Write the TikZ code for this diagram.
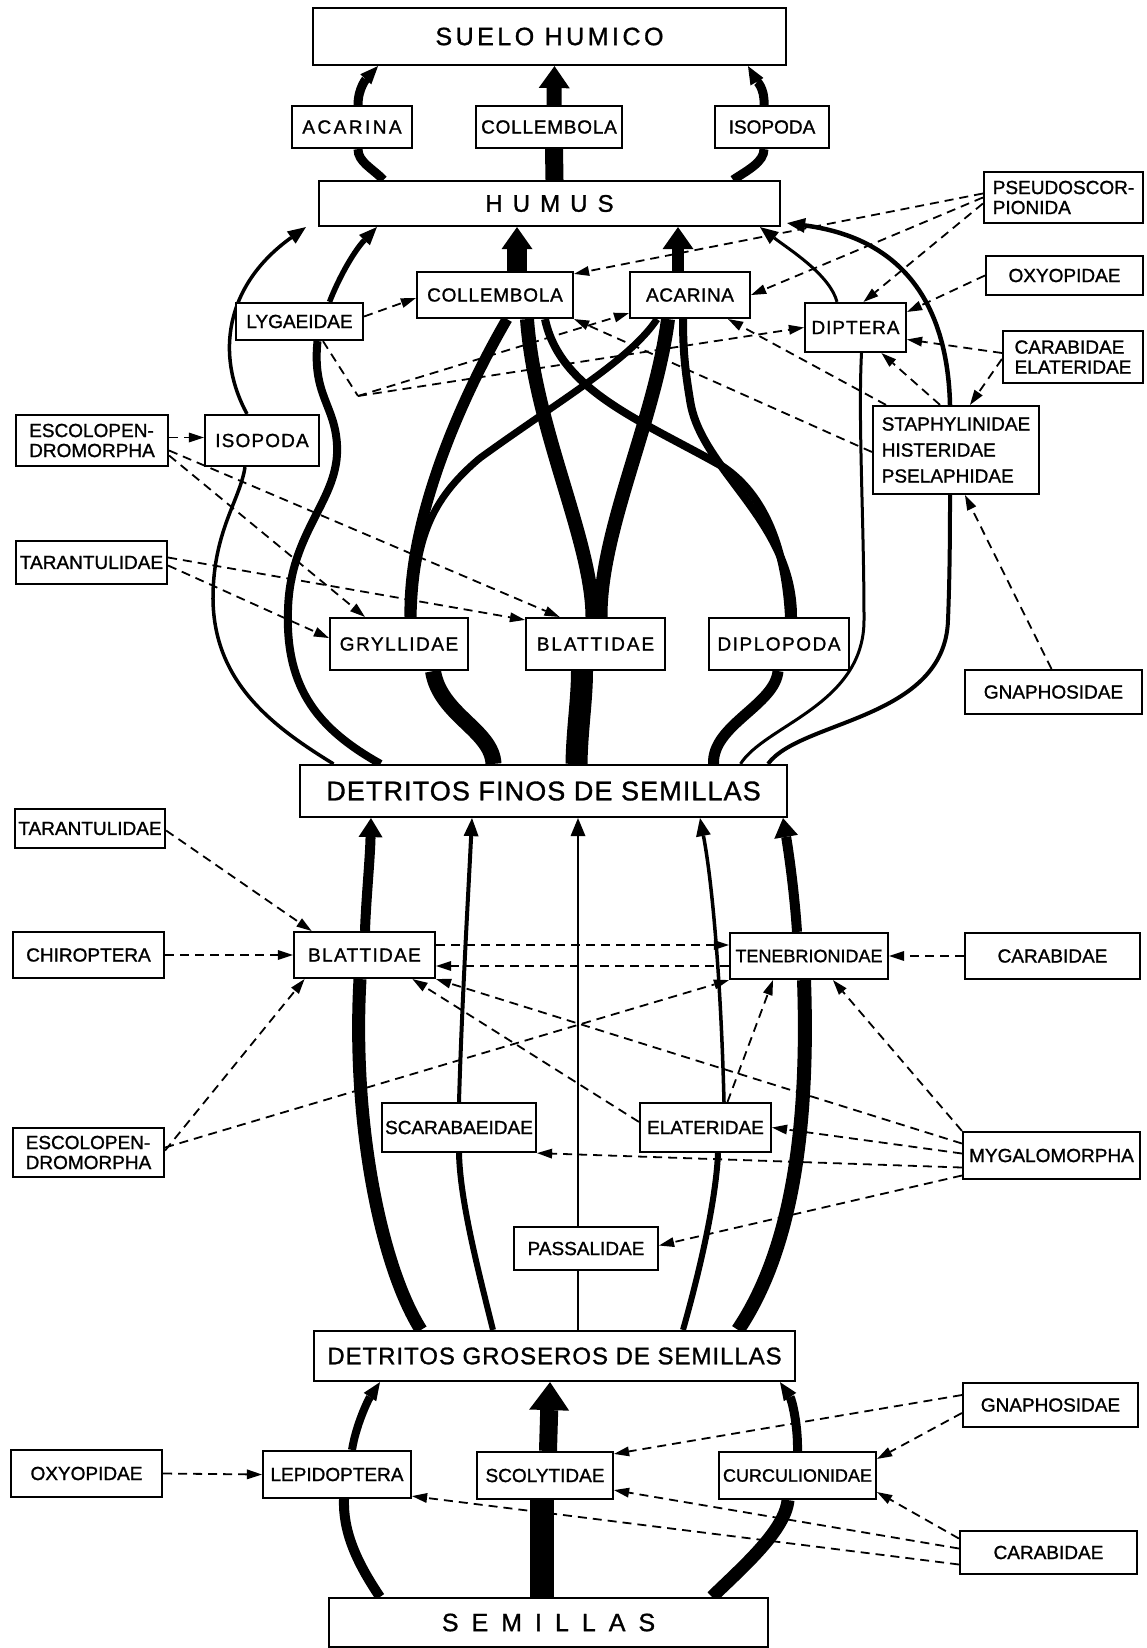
\documentclass[tikz,border=0pt]{standalone}
\usepackage{fontspec}
\setmainfont{Liberation Sans}[FakeBold=1.2]
\usetikzlibrary{arrows.meta}
\pgfdeclarelayer{bg}
\pgfsetlayers{bg,main}

\newcommand\taxfont{\fontsize{19}{22}\selectfont}
\newcommand\poolfont[2]{\fontsize{#1}{#1}\selectfont\addfontfeature{LetterSpace=#2}}

\tikzset{
    taxon/.style={
        draw,line width=2.2pt,fill=white,
        inner sep=0pt,minimum height=46pt,
        font=\taxfont
    },
    spaced/.style={font=\taxfont\addfontfeature{LetterSpace=#1}},
    flow/.style={line width=#1},
    small head/.style={-{Triangle[length=18pt,width=15pt,line width=0pt]}},
    mid head/.style={-{Triangle[length=19pt,width=24pt,line width=0pt]}},
    big head/.style={-{Triangle[length=22pt,width=31pt,line width=0pt]}},
    huge head/.style={-{Triangle[length=28pt,width=40pt,line width=0pt]}},
    preda/.style={
        line width=1.8pt,dash pattern=on 9pt off 6pt,
        -{Triangle[length=15pt,width=10pt,line width=0pt]}
    }
}

\begin{document}
\begin{tikzpicture}[x=1pt,y=-1pt]
    \useasboundingbox (0,0) rectangle (1146,1648);
    % pools
    \node[taxon,minimum width=473pt,minimum height=57pt,font=\poolfont{25}{14}] (suelo) at (549.5,36.5) {SUELO HUMICO};
    \node[taxon,minimum width=461pt,minimum height=45pt,font=\poolfont{24}{42}] (humus) at (549.5,203.5) {HUMUS};
    \node[taxon,minimum width=487pt,minimum height=52pt,font=\poolfont{27}{4}] (df) at (543.5,791) {DETRITOS FINOS DE SEMILLAS};
    \node[taxon,minimum width=481pt,minimum height=50pt,font=\poolfont{24}{4}] (dg) at (554.5,1356) {DETRITOS GROSEROS DE SEMILLAS};
    \node[taxon,minimum width=439pt,minimum height=49pt,font=\poolfont{25}{52}] (semi) at (548.5,1622.5) {SEMILLAS};
    % humus to suelo
    \node[taxon,minimum width=120pt,minimum height=42pt,spaced=13] (acaT) at (352,127) {ACARINA};
    \node[taxon,minimum width=146pt,minimum height=42pt,spaced=4] (colT) at (549,127) {COLLEMBOLA};
    \node[taxon,minimum width=114pt,minimum height=42pt] (isoT) at (772,127) {ISOPODA};
    % fine detritus to humus
    \node[taxon,minimum width=156pt,spaced=4] (colM) at (495,295) {COLLEMBOLA};
    \node[taxon,minimum width=120pt,spaced=3] (acaM) at (690,295) {ACARINA};
    \node[taxon,minimum width=127pt,minimum height=37pt] (lyg) at (299.5,321.5) {LYGAEIDAE};
    \node[taxon,minimum width=101pt,minimum height=49pt,spaced=5] (dipt) at (855.5,327.5) {DIPTERA};
    \node[taxon,minimum width=166pt,minimum height=88pt,align=left,
        font=\fontsize{19}{26}\selectfont] (staph) at (956,450) {STAPHYLINIDAE\\HISTERIDAE\\PSELAPHIDAE};
    \node[taxon,minimum width=114pt,minimum height=51pt,spaced=6] (isoM) at (262,440.5) {ISOPODA};
    \node[taxon,minimum width=138pt,minimum height=52pt,spaced=8] (gryl) at (399,644) {GRYLLIDAE};
    \node[taxon,minimum width=139pt,minimum height=52pt,spaced=10] (blaT) at (595.5,644) {BLATTIDAE};
    \node[taxon,minimum width=140pt,minimum height=52pt,spaced=8] (dipl) at (779,644) {DIPLOPODA};
    % predators, upper part
    \node[taxon,minimum width=159pt,minimum height=51pt,align=left,
        font=\fontsize{19}{20}\selectfont] (pseudo) at (1063.5,197.5) {PSEUDOSCOR-\\PIONIDA};
    \node[taxon,minimum width=157pt,minimum height=39pt] (oxyT) at (1064.5,275.5) {OXYOPIDAE};
    \node[taxon,minimum width=140pt,minimum height=52pt,align=left,
        font=\fontsize{19}{20}\selectfont] (carelat) at (1073,357) {CARABIDAE\\ELATERIDAE};
    \node[taxon,minimum width=152pt,minimum height=51pt,align=left,
        font=\fontsize{19}{20}\selectfont] (escT) at (92,440.5) {ESCOLOPEN-\\DROMORPHA};
    \node[taxon,minimum width=151pt,minimum height=43pt] (tarT) at (91.5,562.5) {TARANTULIDAE};
    \node[taxon,minimum width=177pt,minimum height=44pt] (gnaT) at (1053.5,692) {GNAPHOSIDAE};
    % coarse detritus to fine detritus
    \node[taxon,minimum width=141pt,spaced=7] (blaB) at (364.5,955) {BLATTIDAE};
    \node[taxon,minimum width=158pt,font=\fontsize{18}{22}\selectfont] (tene) at (809,956) {TENEBRIONIDAE};
    \node[taxon,minimum width=154pt,minimum height=49pt] (scar) at (459,1127.5) {SCARABAEIDAE};
    \node[taxon,minimum width=131pt,minimum height=49pt] (elat) at (705.5,1127.5) {ELATERIDAE};
    \node[taxon,minimum width=144pt,minimum height=43pt] (pass) at (586,1248.5) {PASSALIDAE};
    \node[taxon,minimum width=150pt,minimum height=39pt] (tarB) at (90,828.5) {TARANTULIDAE};
    \node[taxon,minimum width=151pt] (chir) at (88.5,955) {CHIROPTERA};
    \node[taxon,minimum width=175pt] (carM) at (1052.5,956) {CARABIDAE};
    \node[taxon,minimum width=151pt,minimum height=49pt,align=left,
        font=\fontsize{19}{20}\selectfont] (escB) at (88.5,1152.5) {ESCOLOPEN-\\DROMORPHA};
    \node[taxon,minimum width=177pt,minimum height=47pt] (myga) at (1051.5,1155.5) {MYGALOMORPHA};
    % seeds to coarse detritus
    \node[taxon,minimum width=148pt,minimum height=47pt] (lepi) at (337,1474.5) {LEPIDOPTERA};
    \node[taxon,minimum width=136pt,minimum height=47pt] (scol) at (545,1475.5) {SCOLYTIDAE};
    \node[taxon,minimum width=157pt,minimum height=47pt,font=\fontsize{18}{22}\selectfont] (curc) at (797.5,1475.5) {CURCULIONIDAE};
    \node[taxon,minimum width=151pt,minimum height=47pt] (oxyB) at (86.5,1473.5) {OXYOPIDAE};
    \node[taxon,minimum width=175pt,minimum height=44pt] (gnaB) at (1050.5,1405) {GNAPHOSIDAE};
    \node[taxon,minimum width=177pt,minimum height=43pt] (carB) at (1048.5,1552.5) {CARABIDAE};

    \begin{pgfonlayer}{bg}
    % flows humus -> suelo humico
    \draw[flow=9] ([xshift=-166pt]humus.north) .. controls (372,168) and (358,162) .. ([xshift=6pt]acaT.south);
    \draw[flow=9,small head] ([xshift=6pt]acaT.north) .. controls (358,88) and (367,78) .. ([xshift=-171.5pt]suelo.south);
    \draw[flow=18] ([xshift=5pt]humus.north) -- ([xshift=5pt]colT.south);
    \draw[flow=15,big head] ([xshift=5pt]colT.north) -- ([xshift=5pt]suelo.south);
    \draw[flow=9] ([xshift=183.5pt]humus.north) .. controls (748,170) and (764,162) .. ([xshift=-8pt]isoT.south);
    \draw[flow=9,small head] ([xshift=-8pt]isoT.north) .. controls (765,88) and (756,80) .. ([xshift=198.5pt]suelo.south);

    % flows into humus
    \draw[flow=20,big head] ([xshift=22pt]colM.north) -- ([xshift=-32.5pt]humus.south);
    \draw[flow=12,big head] ([xshift=-12pt]acaM.north) -- ([xshift=128.5pt]humus.south);
    \draw[flow=3.5,small head] ([xshift=-15pt]isoM.north) .. controls (215,355) and (225,285) .. ([xshift=-12pt]humus.south west);
    \draw[flow=5.5,small head] ([xshift=30pt]lyg.north) .. controls (340,275) and (355,250) .. ([xshift=59pt]humus.south west);
    \draw[flow=3,small head] ([xshift=-18.5pt]dipt.north) .. controls (830,275) and (790,250) .. ([xshift=210.5pt]humus.south);
    \draw[flow=4.5,small head] ([xshift=-6pt]staph.north) .. controls (948,320) and (915,240) .. ([xshift=6pt,yshift=4pt]humus.south east);

    % flows out of fine detritus
    \draw[flow=3.5] ([xshift=-210pt]df.north) .. controls (270,725) and (212,680) .. (213,595)
        .. controls (214,530) and (240,500) .. ([xshift=-17pt]isoM.south);
    \draw[flow=8] ([xshift=-163pt]df.north) .. controls (320,730) and (285,690) .. (288,610)
        .. controls (290,530) and (340,500) .. (337,445)
        .. controls (335,405) and (312,395) .. ([xshift=18pt]lyg.south);
    \draw[flow=16] ([xshift=-50pt]df.north) .. controls (492,730) and (440,715) .. ([xshift=34pt]gryl.south);
    \draw[flow=22] ([xshift=33pt]df.north) .. controls (577,730) and (582,700) .. ([xshift=-13.5pt]blaT.south);
    \draw[flow=11] ([xshift=170pt]df.north) .. controls (712,725) and (775,705) .. ([xshift=-1pt]dipl.south);
    \draw[flow=3] ([xshift=197pt]df.north) .. controls (765,725) and (864,705) .. (864,620)
        .. controls (864,520) and (858,420) .. ([xshift=6pt]dipt.south);
    \draw[flow=4] ([xshift=224.5pt]df.north) .. controls (800,720) and (945,720) .. (948,620)
        .. controls (950,570) and (950,520) .. ([xshift=-6pt]staph.south);

    % crossing flows to collembola and acarina
    \draw[flow=11] ([xshift=11pt]gryl.north) .. controls (408,520) and (460,400) .. ([xshift=12pt]colM.south);
    \draw[flow=7] ([xshift=14pt]gryl.north) .. controls (415,540) and (430,500) .. (480,458)
        .. controls (560,400) and (630,360) .. ([xshift=-33pt]acaM.south);
    \draw[flow=14] ([xshift=-3pt]blaT.north) .. controls (592,540) and (535,430) .. ([xshift=32pt]colM.south);
    \draw[flow=14] ([xshift=5pt]blaT.north) .. controls (600,530) and (655,420) .. ([xshift=-22pt]acaM.south);
    \draw[flow=8] ([xshift=10pt]dipl.north) .. controls (785,540) and (760,490) .. (720,465)
        .. controls (640,420) and (560,390) .. ([xshift=50pt]colM.south);
    \draw[flow=8] ([xshift=14pt]dipl.north) .. controls (793,520) and (700,470) .. (690,400)
        .. controls (685,370) and (683,350) .. ([xshift=-7pt]acaM.south);

    % flows coarse -> fine detritus
    \draw[flow=13] ([xshift=-133.5pt]dg.north) .. controls (380,1265) and (352,1120) .. ([xshift=-4.5pt]blaB.south);
    \draw[flow=10,mid head] ([xshift=0.5pt]blaB.north) .. controls (366,900) and (370,860) .. ([xshift=-172.5pt]df.south);
    \draw[flow=6] ([xshift=-61.5pt]dg.north) .. controls (478,1270) and (460,1200) .. (scar.south);
    \draw[flow=4,small head] (scar.north) .. controls (462,1000) and (468,900) .. ([xshift=-71.5pt]df.south);
    \draw[flow=2.5] ([xshift=23.5pt]dg.north) -- ([xshift=-8pt]pass.south);
    \draw[flow=2.5,small head] ([xshift=-8pt]pass.north) -- ([xshift=34.5pt]df.south);
    \draw[flow=6] ([xshift=128.5pt]dg.north) .. controls (700,1270) and (716,1200) .. ([xshift=12.5pt]elat.south);
    \draw[flow=3.5,small head] ([xshift=18.5pt]elat.north) .. controls (721,980) and (712,880) .. ([xshift=156.5pt]df.south);
    \draw[flow=14] ([xshift=183.5pt]dg.north) .. controls (785,1260) and (810,1150) .. ([xshift=-5pt]tene.south);
    \draw[flow=10,mid head] ([xshift=-12pt]tene.north) .. controls (795,900) and (790,860) .. ([xshift=239.5pt]df.south);

    % flows seeds -> coarse detritus
    \draw[flow=10] ([xshift=-168.5pt]semi.north) .. controls (355,1560) and (343,1530) .. ([xshift=7pt]lepi.south);
    \draw[flow=8,small head] ([xshift=15pt]lepi.north) .. controls (356,1425) and (368,1400) .. ([xshift=-174.5pt]dg.south);
    \draw[flow=24] ([xshift=-6.5pt]semi.north) -- ([xshift=-3pt]scol.south);
    \draw[flow=18,huge head] ([xshift=3pt]scol.north) -- ([xshift=-4.5pt]dg.south);
    \draw[flow=13] ([xshift=163.5pt]semi.north) .. controls (745,1565) and (785,1530) .. ([xshift=-9.5pt]curc.south);
    \draw[flow=9,small head] (curc.north) .. controls (798,1425) and (792,1400) .. ([xshift=225.5pt]dg.south);

    % predation, upper part
    \coordinate (lygknee) at (358,396);
    \draw[preda] ([yshift=5pt]lyg.east) -- ([yshift=-3pt]colM.west);
    \draw[preda,-] ([xshift=23.5pt]lyg.south) -- (lygknee);
    \draw[preda] (lygknee) -- ([yshift=6pt]acaM.south west);
    \draw[preda] (lygknee) -- (dipt.west);
    \draw[preda] ([yshift=4pt]pseudo.west) -- ([yshift=-3pt]colM.north east);
    \draw[preda] (pseudo.west) -- (acaM.east);
    \draw[preda] ([yshift=-6pt]pseudo.west) -- ([xshift=8pt]dipt.north);
    \draw[preda] (oxyT.west) -- ([yshift=-10pt]dipt.north east);
    \draw[preda] ([yshift=4pt]carelat.west) -- ([yshift=-12pt]dipt.east);
    \draw[preda] ([yshift=-2pt]carelat.west) -- ([xshift=14pt]staph.north);
    \draw[preda] ([xshift=-16pt]staph.north) -- ([xshift=26pt]dipt.south);
    \draw[preda] ([xshift=-70pt]staph.north) -- ([xshift=-23pt]acaM.south east);
    \draw[preda] ([yshift=-2pt]staph.west) -- (colM.south east);
    \draw[preda] ([xshift=-2pt]gnaT.north) -- ([xshift=9pt]staph.south);
    \draw[preda] ([yshift=3pt]escT.east) -- ([yshift=3pt]isoM.west);
    \draw[preda] ([yshift=-15pt]escT.east) -- ([xshift=36pt]gryl.north west);
    \draw[preda] ([yshift=-10pt]escT.east) -- ([xshift=-36pt]blaT.north);
    \draw[preda] ([yshift=-3pt]tarT.east) -- ([yshift=6pt]gryl.west);
    \draw[preda] ([yshift=5pt]tarT.east) -- ([yshift=-3pt]blaT.north west);

    % predation, middle part
    \draw[preda] ([yshift=-2pt]tarB.east) -- ([xshift=-53pt]blaB.north);
    \draw[preda] (chir.east) -- (blaB.west);
    \draw[preda] ([yshift=10pt]blaB.east) -- ([yshift=11pt]tene.west);
    \draw[preda] ([yshift=-10pt]tene.west) -- ([yshift=-11pt]blaB.east);
    \draw[preda] (carM.west) -- (tene.east);
    \draw[preda] ([yshift=2pt]escB.east) -- ([xshift=-60pt]blaB.south);
    \draw[preda] ([yshift=5pt]escB.east) -- (tene.south west);
    \draw[preda] ([yshift=12pt]myga.west) -- (blaB.south east);
    \draw[preda] (myga.north west) -- ([xshift=24pt]tene.south);
    \draw[preda] ([yshift=-20pt]elat.north west) -- ([xshift=48pt]blaB.south);
    \draw[preda] ([xshift=22pt]elat.north) -- ([xshift=-36pt]tene.south);
    \draw[preda] ([yshift=2pt]myga.west) -- (elat.east);
    \draw[preda] ([yshift=-12pt]myga.west) -- (scar.south east);
    \draw[preda] ([yshift=-20pt]myga.west) -- ([yshift=3pt]pass.east);

    % predation, lower part
    \draw[preda] (oxyB.east) -- (lepi.west);
    \draw[preda] ([yshift=10pt]gnaB.west) -- ([yshift=-3pt]scol.north east);
    \draw[preda] ([yshift=-8pt]gnaB.west) -- ([yshift=-8pt]curc.north east);
    \draw[preda] ([yshift=14pt]carB.west) -- ([yshift=8pt]curc.south east);
    \draw[preda] ([yshift=4pt]carB.west) -- ([yshift=10pt]scol.south east);
    \draw[preda] ([yshift=-12pt]carB.west) -- ([yshift=3pt]lepi.south east);
    \end{pgfonlayer}
\end{tikzpicture}
\end{document}
